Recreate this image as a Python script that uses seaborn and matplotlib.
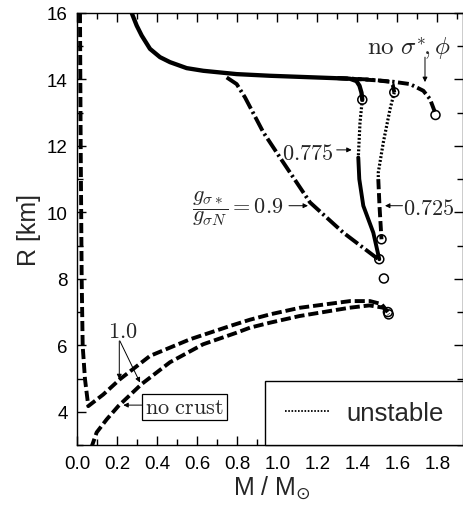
import matplotlib
matplotlib.use('Agg')
import matplotlib.pyplot as plt
import seaborn as sns
from matplotlib.lines import Line2D
from matplotlib.ticker import MultipleLocator

# ---------------- data ----------------
# with crust, g_sigma*/g_sigmaN = 1.0
m_crust = [0.010, 0.0125, 0.016, 0.021, 0.026, 0.0375, 0.054, 0.129, 0.2125, 0.3625,
           0.5625, 0.7625, 0.8625, 0.9625, 1.1125, 1.3625, 1.4625, 1.52, 1.552]
r_crust = [16.6, 16.0, 12.0, 8.0, 5.98, 4.98, 4.17, 4.52, 4.98, 5.68,
           6.18, 6.58, 6.77, 6.93, 7.13, 7.33, 7.33, 7.24, 7.0]
# no crust
m_nocrust = [0.068, 0.096, 0.146, 0.204, 0.32, 0.4625, 0.628, 0.796, 0.8625, 0.9625,
             1.11, 1.36, 1.46, 1.53, 1.556]
r_nocrust = [2.9, 3.38, 3.77, 4.17, 4.83, 5.49, 6.03, 6.38, 6.53, 6.68,
             6.88, 7.13, 7.2, 7.13, 6.93]
# 0.775 : stable hadronic branch (shared plateau)
m_775a = [0.268, 0.271, 0.296, 0.321, 0.3625, 0.4125, 0.4625, 0.546, 0.629, 0.796,
          0.9625, 1.28, 1.3625, 1.395, 1.41, 1.42, 1.424]
r_775a = [16.2, 16.0, 15.62, 15.32, 14.92, 14.67, 14.52, 14.34, 14.26, 14.16,
          14.11, 14.04, 14.02, 13.95, 13.81, 13.6, 13.39]
m_775u = [1.424, 1.4125, 1.404]
r_775u = [13.39, 12.7, 11.65]
m_775b = [1.404, 1.409, 1.429, 1.479, 1.509]
r_775b = [11.65, 11.0, 10.2, 9.39, 8.59]
# 0.725
m_725a = [1.30, 1.40, 1.50, 1.56, 1.576, 1.584]
r_725a = [14.04, 14.01, 13.97, 13.93, 13.85, 13.61]
m_725u = [1.584, 1.5625, 1.529, 1.504, 1.504]
r_725u = [13.61, 13.1, 12.1, 11.2, 11.0]
m_725b = [1.504, 1.51, 1.52]
r_725b = [11.0, 10.2, 9.19]
# no sigma*, phi
m_nosig = [1.30, 1.45, 1.579, 1.6625, 1.729, 1.7625, 1.7875, 1.790]
r_nosig = [14.04, 14.0, 13.93, 13.86, 13.66, 13.41, 13.01, 12.93]
# 0.9
m_09 = [0.746, 0.796, 0.8375, 0.929, 1.0125, 1.1625, 1.329, 1.504]
r_09 = [14.06, 13.86, 13.46, 12.41, 11.65, 10.3, 9.39, 8.59]
# end-point circles
m_end = [1.424, 1.584, 1.790, 1.52, 1.509, 1.532, 1.552, 1.556]
r_end = [13.39, 13.61, 12.93, 9.19, 8.59, 8.01, 7.0, 6.93]

xticks = [0.0, 0.2, 0.4, 0.6, 0.8, 1.0, 1.2, 1.4, 1.6, 1.8]
yticks = [4, 6, 8, 10, 12, 14, 16]

# ---------------- style ----------------
sns.set_style('ticks')
plt.rcParams['font.family'] = ['Liberation Sans', 'DejaVu Sans']
plt.rcParams['mathtext.fontset'] = 'dejavusans'

fig = plt.figure(figsize=(4.64, 5.06), dpi=100)
ax = fig.add_axes([0.167, 0.1186, 0.8319, 0.8538])

LW = 2.8
dash = (0, (2.6, 1.0))
dashdot = (0, (4.0, 0.9, 0.6, 0.9))
dashdot2 = (0, (2.8, 0.9, 0.6, 0.9))
dotted = (0, (0.6, 0.6))


def line(m, r, ls, lw=LW):
    sns.lineplot(x=m, y=r, sort=False, estimator=None, ax=ax, color='k',
                 linestyle=ls, linewidth=lw)


line(m_crust, r_crust, dash)
line(m_nocrust, r_nocrust, dash)
line(m_09, r_09, dashdot)
line(m_nosig, r_nosig, dashdot2)
line(m_725a, r_725a, dash)
line(m_725u, r_725u, dotted, 2.3)
line(m_725b, r_725b, dash)
line(m_775a, r_775a, '-', 3.1)
line(m_775u, r_775u, dotted, 2.3)
line(m_775b, r_775b, '-', 2.8)

sns.scatterplot(x=m_end, y=r_end, ax=ax, marker='o', s=42, facecolor='none',
                edgecolor='k', linewidth=1.1, zorder=5)

ax.set_xlim(0.0, 1.93)
ax.set_ylim(3, 16)
ax.set_xticks(xticks)
ax.set_xticklabels([f'{v:.1f}' for v in xticks])
ax.set_yticks(yticks)
ax.xaxis.set_minor_locator(MultipleLocator(0.1))
ax.yaxis.set_minor_locator(MultipleLocator(1))
ax.tick_params(which='both', direction='in', top=True, right=True, width=1.0,
               color='k', labelsize=13.5, labelcolor='k', pad=7)
ax.tick_params(which='major', length=6.5)
ax.tick_params(which='minor', length=4.0)
for s in ax.spines.values():
    s.set_linewidth(1.0)
    s.set_color('k')

ax.set_xlabel('M / M$_{\\odot}$', fontsize=18)
ax.set_ylabel('R [km]', fontsize=18)
ax.yaxis.set_label_coords(-0.095, 0.5)
ax.xaxis.set_label_coords(0.5026, -0.066)

# ---------------- annotations ----------------
fs = 16
aprops = dict(arrowstyle='-|>', lw=0.7, color='k', mutation_scale=7,
              shrinkA=0, shrinkB=0)


def arrow(tail, head):
    ax.annotate('', xy=head, xytext=tail, arrowprops=aprops)


ax.text(1.449, 14.77, r'$\mathrm{no}\ \sigma^{*}\!,\phi$', fontsize=18,
        math_fontfamily='cm', ha='left', va='baseline')
arrow((1.7375, 14.67), (1.7375, 13.92))

ax.text(1.2775, 11.62, r'$\mathrm{0.775}$', fontsize=fs, math_fontfamily='cm',
        ha='right', va='baseline')
arrow((1.296, 11.88), (1.371, 11.88))

ax.text(1.629, 9.95, r'$\mathrm{0.725}$', fontsize=fs, math_fontfamily='cm',
        ha='left', va='baseline')
arrow((1.625, 10.2), (1.5375, 10.2))

ax.text(1.029, 10.0, r'$\dfrac{g_{\sigma *}}{g_{\sigma N}}=\mathrm{0.9}$',
        fontsize=fs, math_fontfamily='cm', ha='right', va='baseline')
arrow((1.0575, 10.2), (1.1525, 10.2))

ax.text(0.1525, 6.26, r'$\mathrm{1.0}$', fontsize=fs, math_fontfamily='cm',
        ha='left', va='baseline')
arrow((0.209, 6.13), (0.209, 4.98))
arrow((0.212, 6.13), (0.3125, 4.88))

ax.text(0.3375, 3.97, r'$\mathrm{no\ crust}$', fontsize=fs, math_fontfamily='cm',
        ha='left', va='baseline',
        bbox=dict(boxstyle='square,pad=0.12', fc='w', ec='k', lw=0.9))
arrow((0.321, 4.2), (0.229, 4.2))

# ---------------- legend ----------------
handle = Line2D([], [], color='k', linestyle=(0, (0.9, 0.9)), linewidth=1.3)
leg = ax.legend([handle], ['unstable'], loc='lower right', fontsize=18.5,
                frameon=True, fancybox=False, edgecolor='k', framealpha=1,
                borderaxespad=0, borderpad=0.78, handlelength=1.75,
                handletextpad=0.62)
leg.get_frame().set_linewidth(1.0)

fig.savefig('out.png', dpi=100)
